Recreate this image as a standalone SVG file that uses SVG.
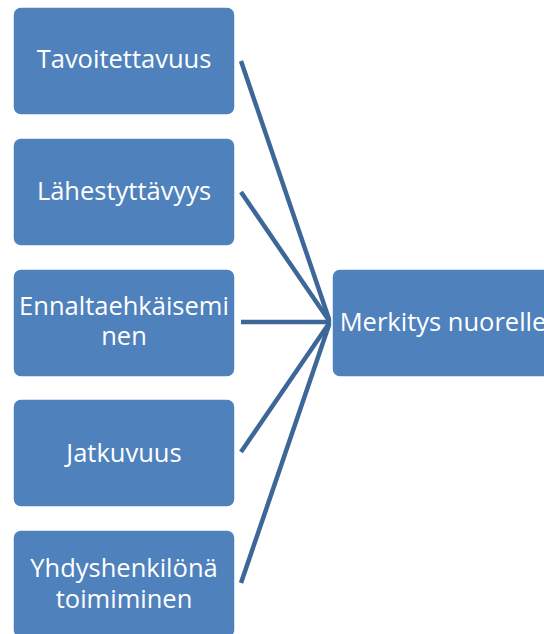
<svg xmlns="http://www.w3.org/2000/svg" width="544" height="634" viewBox="0 0 544 634">
<style>
.box{fill:#4f81bd;stroke:#ffffff;stroke-width:1.5}
.t{font-family:"Open Sans","Liberation Sans",sans-serif;font-size:25.5px;fill:#ffffff;text-anchor:middle}
.c{stroke:#3d6798;stroke-width:4.5;fill:none;stroke-linecap:butt}
</style>
<rect width="544" height="634" fill="#ffffff"/>
<g id="connectors">
<line class="c" x1="241" y1="61" x2="330" y2="322"/>
<line class="c" x1="241" y1="192" x2="330" y2="322"/>
<line class="c" x1="241" y1="322" x2="330" y2="322"/>
<line class="c" x1="241" y1="452" x2="330" y2="322"/>
<line class="c" x1="241" y1="583" x2="330" y2="322"/>
</g>
<g id="n1"><rect class="box" x="13" y="7" width="222" height="108" rx="8"/><text class="t" x="124" y="68">Tavoitettavuus</text></g>
<g id="n2"><rect class="box" x="13" y="138" width="222" height="108" rx="8"/><text class="t" x="124" y="200">Lähestyttävyys</text></g>
<g id="n3"><rect class="box" x="13" y="269" width="222" height="108" rx="8"/><text class="t" x="124" y="315">Ennaltaehkäisemi</text><text class="t" x="124" y="345">nen</text></g>
<g id="n4"><rect class="box" x="13" y="399" width="222" height="108" rx="8"/><text class="t" x="124" y="462">Jatkuvuus</text></g>
<g id="n5"><rect class="box" x="13" y="530" width="222" height="108" rx="8"/><text class="t" x="124" y="577">Yhdyshenkilönä</text><text class="t" x="124" y="608">toimiminen</text></g>
<g id="n6"><rect class="box" x="332" y="269" width="222" height="108" rx="8"/><text class="t" x="443" y="331">Merkitys nuorelle</text></g>
</svg>
